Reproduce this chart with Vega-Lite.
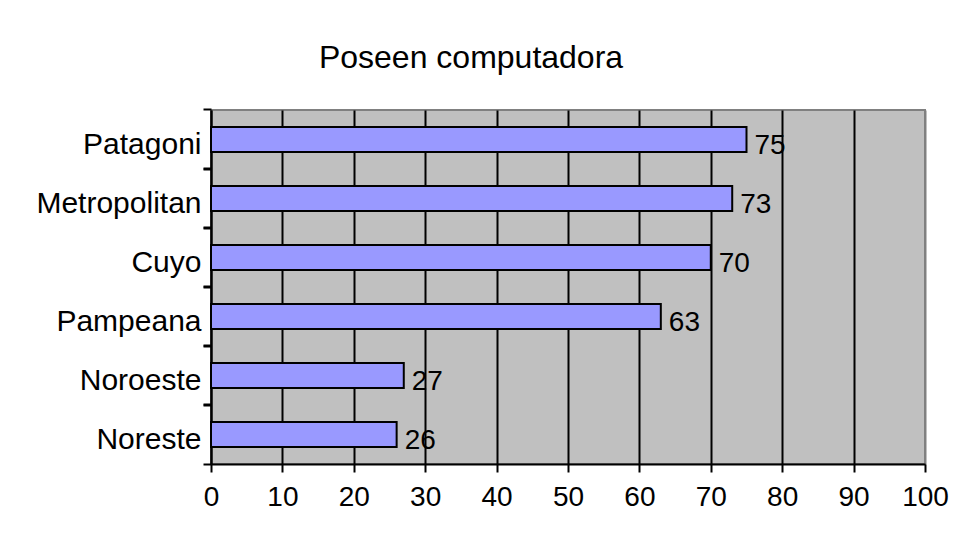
{
  "$schema": "https://vega.github.io/schema/vega-lite/v6.json",
  "width": 714,
  "height": 354,
  "autosize": "none",
  "padding": {"left": 211, "top": 110, "right": 28, "bottom": 73},
  "background": "white",
  "title": {
    "text": "Poseen computadora",
    "font": "Liberation Sans",
    "fontSize": 32,
    "fontWeight": "normal",
    "color": "black",
    "anchor": "middle",
    "dx": -97,
    "offset": 33
  },
  "config": {
    "view": {"fill": "#C0C0C0", "stroke": "#808080", "strokeWidth": 2},
    "axis": {"labelFont": "Liberation Sans", "labelColor": "black"}
  },
  "data": {
    "values": [
      {"region": "Patagoni", "value": 75},
      {"region": "Metropolitan", "value": 73},
      {"region": "Cuyo", "value": 70},
      {"region": "Pampeana", "value": 63},
      {"region": "Noroeste", "value": 27},
      {"region": "Noreste", "value": 26}
    ]
  },
  "encoding": {
    "x": {
      "field": "value",
      "type": "quantitative",
      "scale": {"domain": [0, 100], "nice": false},
      "axis": {
        "title": null,
        "values": [0, 10, 20, 30, 40, 50, 60, 70, 80, 90, 100],
        "grid": true,
        "gridColor": {"condition": {"test": "datum.value == 100", "value": "#808080"}, "value": "black"},
        "gridWidth": 2,
        "gridOpacity": 1,
        "domainColor": "black",
        "domainWidth": 2,
        "tickColor": "black",
        "tickWidth": 2,
        "tickSize": 8,
        "labelFontSize": 28,
        "labelPadding": 11,
        "labelFlush": false
      }
    }
  },
  "layer": [
    {
      "mark": {"type": "bar", "fill": "#9999FF", "stroke": "black", "strokeWidth": 2},
      "encoding": {
        "y": {
          "field": "region",
          "type": "nominal",
          "sort": null,
          "scale": {"paddingInner": 0.576, "paddingOuter": 0.288},
          "axis": {
            "title": null,
            "orient": "left",
            "bandPosition": -0.68,
            "grid": false,
            "domainColor": "black",
            "domainWidth": 2,
            "tickColor": "black",
            "tickWidth": 2,
            "tickSize": 8,
            "labelFontSize": 30,
            "labelPadding": 2,
            "labelOffset": 5
          }
        }
      }
    },
    {
      "mark": {
        "type": "text",
        "align": "left",
        "baseline": "middle",
        "dx": 8,
        "dy": 6,
        "font": "Liberation Sans",
        "fontSize": 28,
        "color": "black"
      },
      "encoding": {
        "y": {
          "field": "region",
          "type": "nominal",
          "sort": null,
          "axis": {
            "title": null,
            "orient": "left",
            "bandPosition": 1.68,
            "grid": false,
            "labels": false,
            "domain": false,
            "tickColor": "black",
            "tickWidth": 2,
            "tickSize": 8
          }
        },
        "text": {"field": "value", "type": "quantitative"}
      }
    }
  ],
  "resolve": {"axis": {"y": "independent"}}
}
